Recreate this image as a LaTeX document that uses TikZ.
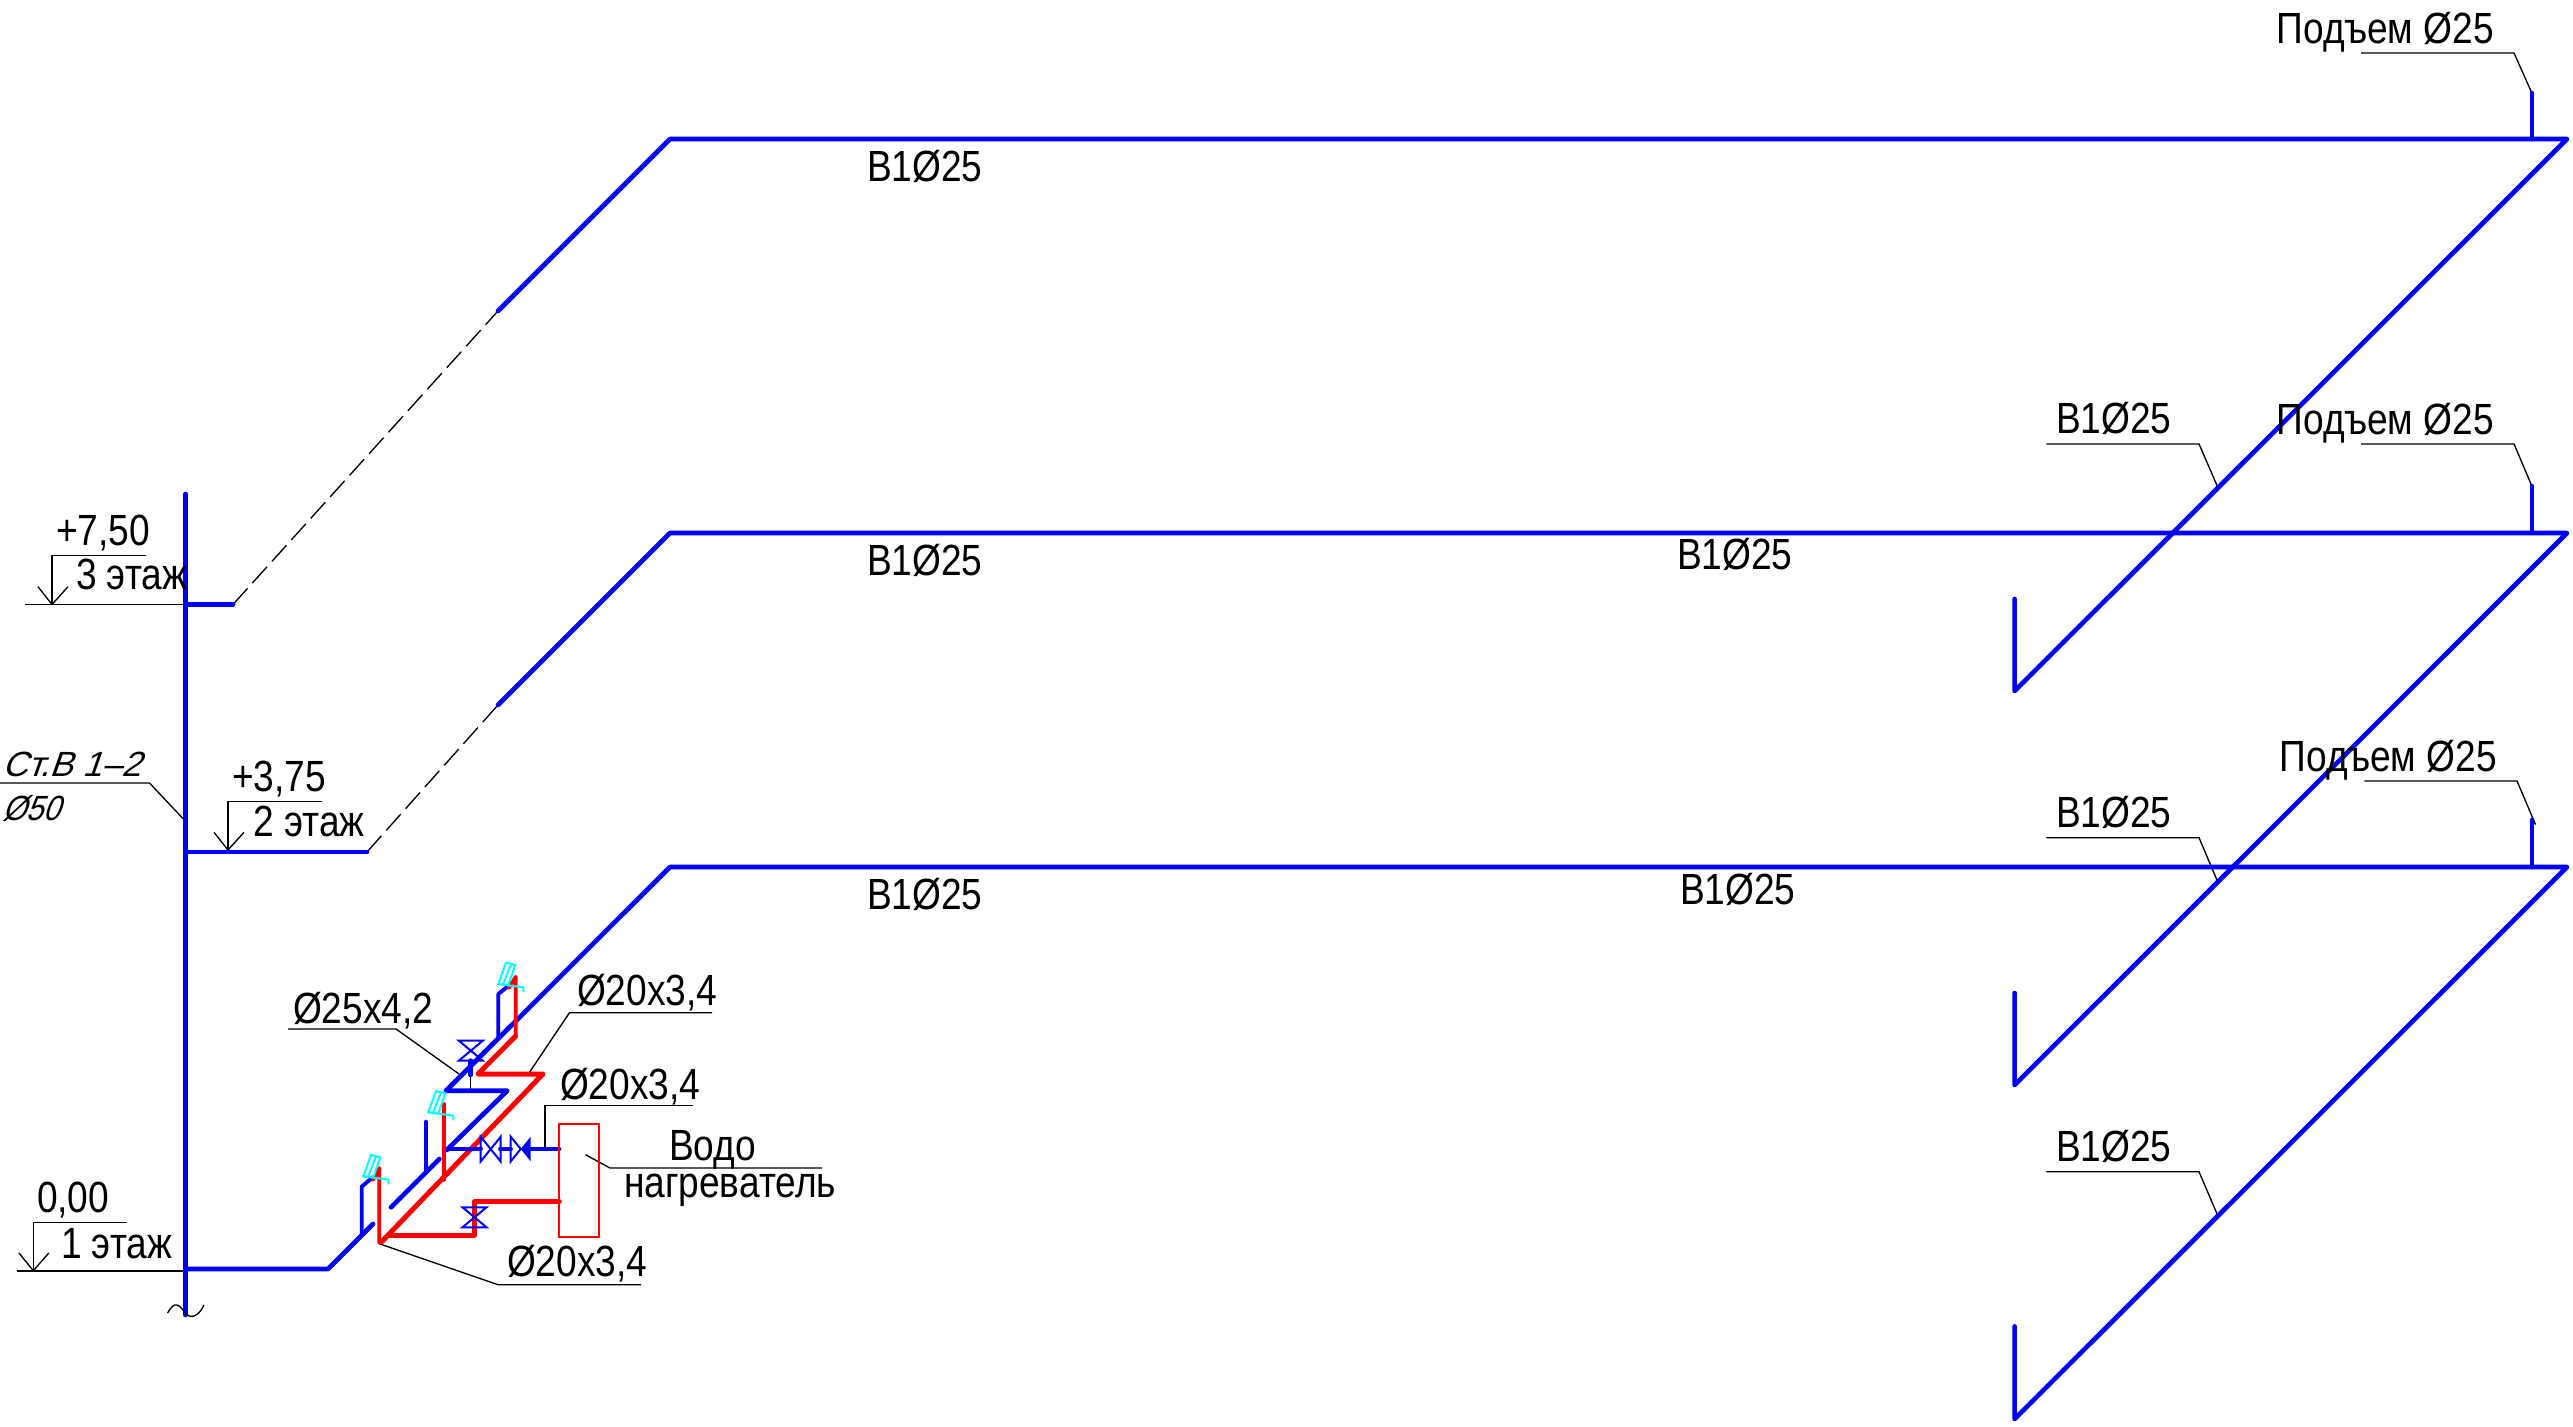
\documentclass[tikz,border=0pt]{standalone}
\usepackage{fontspec}
\setmainfont[FakeStretch=0.85]{Liberation Sans}
\newfontfamily\gostfont[FakeSlant=0.35]{Liberation Sans}
\newfontfamily\gostnarrow[FakeSlant=0.35,FakeStretch=0.87]{Liberation Sans}
\definecolor{pipeblue}{RGB}{0,0,255}
\definecolor{pipered}{RGB}{255,0,0}
\definecolor{ballcyan}{RGB}{0,255,255}
\tikzset{
  bpipe/.style={draw=pipeblue,line width=1.4pt,line cap=round,line join=round},
  bpipethin/.style={draw=pipeblue,line width=1.15pt,line cap=round,line join=round},
  rpipe/.style={draw=pipered,line width=1.5pt,line cap=round,line join=round},
  rpipethin/.style={draw=pipered,line width=1.1pt,line cap=round,line join=round},
  thinb/.style={draw=pipeblue,line width=0.6pt,line join=miter},
  leader/.style={draw=black,line width=0.4pt},
  hidden pipe/.style={draw=black,line width=0.4pt,dash pattern=on 6.5pt off 2.2pt},
  lbl/.style={anchor=base west,inner sep=0pt,outer sep=0pt,font=\fontsize{13.1}{15}\selectfont},
  gost/.style={anchor=base west,inner sep=0pt,outer sep=0pt,font=\fontsize{10.5}{12}\selectfont\gostfont},
  gostn/.style={anchor=base west,inner sep=0pt,outer sep=0pt,font=\fontsize{10.5}{12}\selectfont\gostnarrow},
  cyanmark/.style={draw=ballcyan,line width=0.6pt,line join=miter},
  valve/.pic={\draw[thinb] (-12,-10)--(12,-10)--(-12,10)--(12,10)--cycle;}
}
\begin{document}
\begin{tikzpicture}[x=0.3pt,y=-0.3pt]
\useasboundingbox (0,0) rectangle (2573,1427);
% leaders and level marks
\draw[leader] (2361,53)--(2514,53)--(2531.8,93);
\draw[leader] (2361,444)--(2514,444)--(2531.8,486);
\draw[leader] (2046.4,444)--(2199,444)--(2217.5,486.7);
\draw[leader] (2364.4,781)--(2517,781)--(2535.5,824.6);
\draw[leader] (2046.4,837.7)--(2199,837.7)--(2217.5,881.4);
\draw[leader] (2046.4,1171.8)--(2199,1171.8)--(2217.5,1215);
\draw[leader] (0,783)--(149.5,783)--(185,820.7);
\draw[leader] (146,555.7)--(52,555.7)--(52,604.5);
\draw[leader] (25,604.5)--(185,604.5);
\draw[leader] (38,586.7)--(52,604.5)--(68,586.7);
\draw[leader] (322,801.7)--(228,801.7)--(228,850);
\draw[leader] (214,832.3)--(228,850)--(244,832.3);
\draw[leader] (127.4,1222.3)--(33.3,1222.3)--(33.3,1270.7);
\draw[leader] (17,1271)--(185,1271);
\draw[leader] (19,1253)--(33.3,1270.7)--(48.8,1253);
\draw[leader] (288,1029)--(396,1029)--(459,1074);
\draw[leader] (470.7,1060)--(470.7,1090.7);
\draw[leader] (712,1012.7)--(569.5,1012.7)--(529,1073);
\draw[leader] (693,1105.7)--(545,1105.7)--(545,1147);
\draw[leader] (641,1284.7)--(498,1284.7)--(380,1244);
\draw[leader] (822,1168)--(610,1168)--(585.5,1154.7);
% hidden runs
\draw[hidden pipe] (233,604.5)--(498,311);
\draw[hidden pipe] (367,852)--(498,705);
% blue mains
\draw[bpipe] (185.5,494)--(185.5,1315);
\draw[bpipe] (185.5,604.5)--(233,604.5);
\draw[bpipe] (185.5,852)--(367,852);
\draw[bpipe] (185.5,1269)--(328,1269)--(373,1224);
\draw[bpipe] (498,311)--(670,139)--(2567,139)--(2014.6,691)--(2014.6,599);
\draw[bpipe] (498,705)--(670,533)--(2567,533)--(2014.6,1085)--(2014.6,993);
\draw[bpipe] (446,1090.7)--(507.3,1090.7)--(446.7,1150);
\draw[bpipe] (446,1090.7)--(670,867)--(2567,867)--(2014.6,1419)--(2014.6,1326.4);
\draw[bpipe] (2531.8,93)--(2531.8,139);
\draw[bpipe] (2531.8,486)--(2531.8,533);
\draw[bpipe] (2531.8,820)--(2531.8,867);
\draw[bpipe] (391,1207.3)--(439.3,1159);
% break mark
\draw[leader] (167.6,1313) .. controls (171,1307) and (174,1304) .. (177,1305) .. controls (181,1306) and (183,1311) .. (186,1314) .. controls (190,1318) and (198,1318) .. (204,1305);
% risers
\draw[bpipethin] (361.7,1235)--(361.7,1186.7)--(373,1177);
\draw[bpipethin] (426,1171.7)--(426,1121.7);
\draw[bpipethin] (498.3,1037)--(498.3,994)--(511.7,983.3);
% red pipes
\draw[rpipethin] (379.3,1243)--(379.3,1168)--(373,1180);
\draw[rpipe] (381.7,1241.7)--(543,1074)--(478,1074)--(515.7,1036);
\draw[rpipethin] (515.7,1036)--(515.7,976.7)--(509,988);
\draw[rpipe] (390,1235)--(474.3,1235)--(474.3,1201.7)--(559.3,1201.7);
\draw[rpipethin] (444,1180)--(444,1104);
% heater outlet and valves
\draw[bpipethin] (448.3,1149)--(481,1149);
\draw[bpipethin] (500,1149)--(511,1149);
\draw[bpipe] (530.7,1149)--(559,1149);
\draw[bpipe] (470.7,1060.7)--(470.7,1075);
\draw[thinb] (480.7,1136.7)--(480.7,1161.5)--(500.7,1136.7)--(500.7,1161.5)--cycle;
\draw[thinb] (510.7,1136.7)--(510.7,1161.5)--(520.7,1149)--cycle;
\fill[pipeblue] (520.7,1149)--(530.7,1136.7)--(530.7,1161.5)--cycle;
\pic at (470.8,1050.7) {valve};
\pic at (474.5,1217.3) {valve};
% water heater
\draw[draw=pipered,line width=0.5pt] (559.3,1123.7) rectangle (599.3,1237);
% shower marks
\foreach \dx/\dy in {0/0,-70/128.3,-135/192.3}{
  \begin{scope}[shift={(\dx,\dy)}]
    \draw[cyanmark] (506,962.7)--(515.3,965)--(508.3,985)--(498.3,984)--cycle;
    \draw[cyanmark] (511,964)--(503,984.5);
    \draw[cyanmark] (498.3,984)--(523.3,987.3)--(523.3,992);
  \end{scope}
}
% labels
\node[lbl] (t1) at (2276.7,44) {Подъем Ø25};
\node[lbl] (t2) at (2276.7,435) {Подъем Ø25};
\node[lbl] (t3) at (2279.6,772) {Подъем Ø25};
\node[lbl] (b1) at (867,181.7) {B1Ø25};
\node[lbl] (b2) at (867,575.7) {B1Ø25};
\node[lbl] (b3) at (867,910) {B1Ø25};
\node[lbl] (b4) at (1677,569.3) {B1Ø25};
\node[lbl] (b5) at (1680,904.3) {B1Ø25};
\node[lbl] (b6) at (2056,434) {B1Ø25};
\node[lbl] (b7) at (2056,827.3) {B1Ø25};
\node[lbl] (b8) at (2056,1161) {B1Ø25};
\node[lbl] (e3) at (56,546) {+7,50};
\node[lbl] (f3) at (76,590) {3 этаж};
\node[lbl] (e2) at (232,791.7) {+3,75};
\node[lbl] (f2) at (253.6,837) {2 этаж};
\node[lbl] (e1) at (37,1212.7) {0,00};
\node[lbl] (f1) at (61,1258) {1 этаж};
\node[gost] (st) at (2,777) {Ст.В 1–2};
\node[gostn] (d50) at (2,820.7) {Ø50};
\node[lbl] (d1) at (293,1023) {Ø25x4,2};
\node[lbl] (d2) at (577,1005) {Ø20x3,4};
\node[lbl] (d3) at (560,1099) {Ø20x3,4};
\node[lbl] (d4) at (507,1276.7) {Ø20x3,4};
\node[lbl] (v1) at (669,1160.7) {Водо};
\node[lbl] (v2) at (624,1197) {нагреватель};
\end{tikzpicture}
\end{document}
